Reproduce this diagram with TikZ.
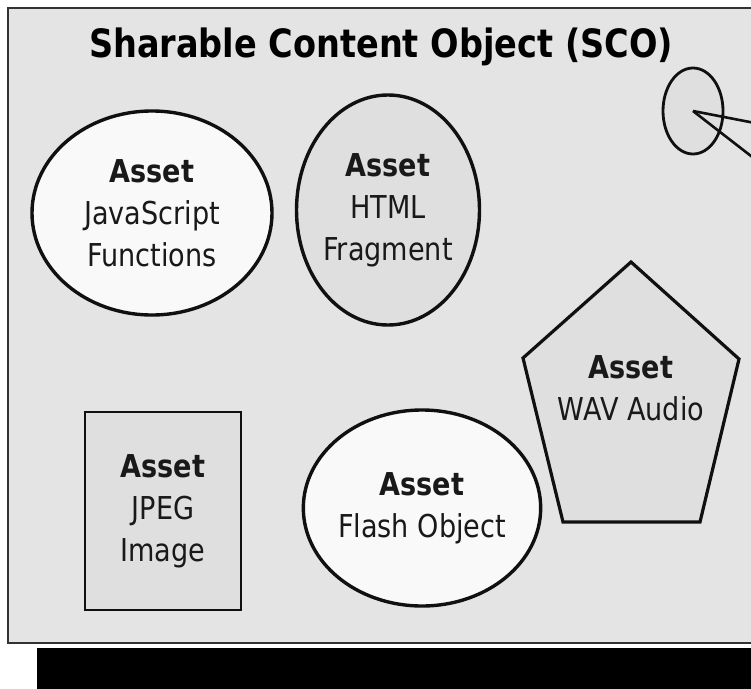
\documentclass[tikz,border=0pt]{standalone}
\usepackage{fontspec}
\setmainfont{DejaVu Sans}[FakeStretch=0.86]
\usetikzlibrary{shapes.geometric}

\definecolor{panel}{HTML}{E4E4E4}
\definecolor{lightfill}{HTML}{F9F9F9}
\definecolor{greyfill}{HTML}{DFDFDF}
\definecolor{edge}{HTML}{101010}

\tikzset{
  asset/.style={draw=edge, line width=3.4pt, inner sep=0pt, align=center,
    font=\fontsize{31.5}{42}\selectfont, text=black!90},
  oval/.style={asset, ellipse},
  label/.style={align=center, inner sep=0pt, text=black!90,
    font=\fontsize{31.5}{42}\selectfont},
}

\begin{document}
\begin{tikzpicture}[x=1pt, y=-1pt]
  % page extent
  \useasboundingbox (0,0) rectangle (751,688);
  \fill[white] (0,0) rectangle (751,688);
  \begin{scope}
    \clip (0,0) rectangle (751,688);
    % drop shadow under the panel
    \fill[black] (37,648) rectangle (780,700);
    % the SCO panel
    \draw[draw=black!80, line width=2.2pt, fill=panel] (8,8) rectangle (790,643);

    % title
    \node[inner sep=0pt, font=\fontsize{39}{46}\selectfont\bfseries] (title) at (381,47)
      {Sharable Content Object (SCO)};

    % assets
    \node[oval, fill=lightfill, minimum width=240pt, minimum height=204pt] (js) at (152,213)
      {\textbf{Asset}\\JavaScript\\Functions};
    \node[oval, fill=greyfill, minimum width=180pt, minimum height=230pt] (html) at (388,210)
      {\textbf{Asset}\\HTML\\Fragment};
    \node[asset, rectangle, fill=greyfill, line width=2.6pt, minimum width=156pt, minimum height=198pt] (jpeg) at (163,511)
      {\textbf{Asset}\\JPEG\\Image};
    \node[oval, fill=lightfill, minimum width=232pt, minimum height=196pt] (flash) at (422,508)
      {\textbf{Asset}\\Flash Object};

    % pentagon asset
    \coordinate (p1) at (631,262);
    \coordinate (p2) at (739,359);
    \coordinate (p3) at (700,522);
    \coordinate (p4) at (563,522);
    \coordinate (p5) at (523,358);
    \draw[draw=edge, line width=3.2pt, fill=greyfill, line join=miter]
      (p1) -- (p2) -- (p3) -- (p4) -- (p5) -- cycle;
    \node[label] (wav) at (631,388) {\textbf{Asset}\\WAV Audio};

    % small link circle with its pointer lines
    \node[draw=edge, line width=2.8pt, fill=greyfill, ellipse, inner sep=0pt,
      minimum width=60pt, minimum height=86pt] (link) at (693,111) {};
    \coordinate (ra) at (760,124);
    \coordinate (rb) at (760,163);
    \draw[edge, line width=2.6pt] (link.center) -- (ra);
    \draw[edge, line width=2.6pt] (link.center) -- (rb);
  \end{scope}
\end{tikzpicture}
\end{document}
